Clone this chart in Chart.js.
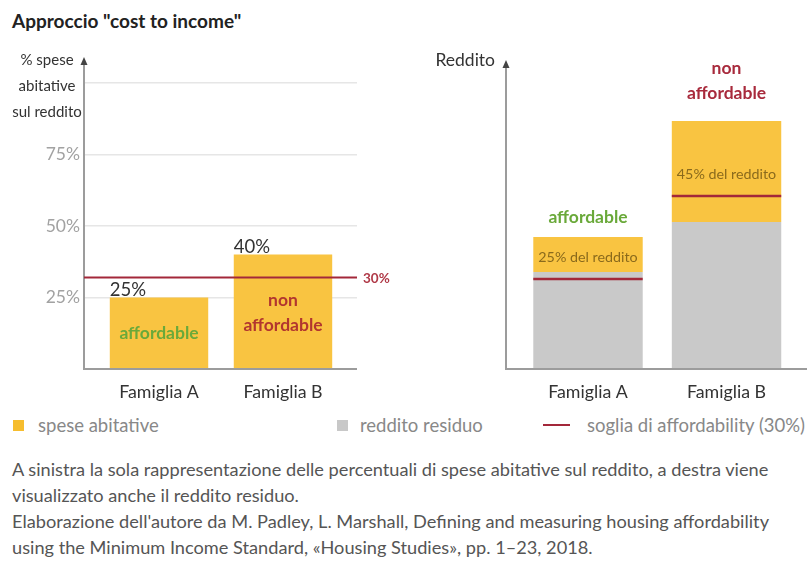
<!DOCTYPE html>
<html>
<head>
<meta charset="utf-8">
<script src="https://cdn.jsdelivr.net/npm/chart.js@4.4.0/dist/chart.umd.min.js"></script>
<style>
body { margin: 0; width: 807px; height: 569px; background: #fff; font-family: Lato, sans-serif; position: relative; overflow: hidden; }
#title { position: absolute; left: 12px; top: 9px; font-weight: 700; font-size: 19px; color: #222; }
.box { position: absolute; top: 0; height: 410px; }
#boxLeft { left: 0; width: 400px; }
#boxRight { left: 400px; width: 407px; }
.leg { position: absolute; top: 414px; font-size: 18.5px; color: #888; line-height: 22px; white-space: nowrap; }
.sq { position: absolute; top: 420px; width: 11px; height: 11px; }
#caption { position: absolute; left: 12px; top: 456px; font-size: 18.2px; line-height: 26px; color: #555; white-space: nowrap; }
</style>
</head>
<body>
<div id="title">Approccio "cost to income"</div>
<div class="box" id="boxLeft"><canvas id="chartLeft"></canvas></div>
<div class="box" id="boxRight"><canvas id="chartRight"></canvas></div>

<div class="sq" style="left:13px; background:#f6bd2e;"></div>
<div class="leg" style="left:38px;">spese abitative</div>
<div class="sq" style="left:337px; background:#c8c8c8;"></div>
<div class="leg" style="left:360px;">reddito residuo</div>
<div style="position:absolute; left:543px; top:424px; width:27px; height:2px; background:#a3283a;"></div>
<div class="leg" style="left:587px;">soglia di affordability (30%)</div>

<div id="caption">A sinistra la sola rappresentazione delle percentuali di spese abitative sul reddito, a destra viene<br>visualizzato anche il reddito residuo.<br>Elaborazione dell'autore da M. Padley, L. Marshall, Defining and measuring housing affordability<br>using the Minimum Income Standard, «Housing Studies», pp. 1–23, 2018.</div>

<script>
// dati
const famiglie = ['Famiglia A', 'Famiglia B'];
const quotaSpese = [25, 40];            // % spese abitative sul reddito (sinistra)
const sogliaSinistra = 32;              // linea soglia, come disegnata
const etichettaSoglia = '30%';
const yTicksSinistra = [0, 25, 50, 75, 100];
const redditoResiduo = [97, 147];       // destra, parte grigia
const speseAbitative = [35, 101];       // destra, parte gialla
const sogliaDestra = [90, 173];         // altezza linea soglia su ogni barra
const etichetteDestra = ['25% del reddito', '45% del reddito'];
const giudizio = [['affordable'], ['non', 'affordable']];

const GIALLO = '#f9c441';
const GRIGIO = '#c9c9c9';
const ROSSO_LINEA = '#a3283a';
const VERDE = '#6aa93a';
const FONT = 'Lato, sans-serif';

function disegnaAsse(ctx, x, yBase, yTop, xEnd) {
    ctx.save();
    ctx.strokeStyle = '#9c9c9c';
    ctx.lineWidth = 2;
    ctx.beginPath();
    ctx.moveTo(x, yBase); ctx.lineTo(x, yTop + 5);
    ctx.moveTo(x - 1, yBase); ctx.lineTo(xEnd, yBase);
    ctx.stroke();
    ctx.fillStyle = '#444';
    ctx.beginPath();
    ctx.moveTo(x, yTop); ctx.lineTo(x - 3.5, yTop + 8); ctx.lineTo(x + 3.5, yTop + 8);
    ctx.closePath(); ctx.fill();
    ctx.restore();
}

function toData(arr) { return arr.map((v, i) => ({ x: i, y: v })); }

const xBase = (min, max) => ({
    type: 'linear', min: min, max: max, offset: false, stacked: true,
    grid: { display: false, drawTicks: false, offset: false },
    border: { display: false },
    afterBuildTicks: s => { s.ticks = famiglie.map((_, i) => ({ value: i })); },
    afterFit: s => { s.height = 41; },
    ticks: { callback: v => famiglie[v], color: '#333', font: { family: FONT, size: 17.8 }, padding: 13, maxRotation: 0, autoSkip: false }
});

// ---------- grafico sinistro ----------
const pluginSinistra = {
    id: 'annotSinistra',
    afterDatasetsDraw(chart) {
        const { ctx, chartArea: ca, scales: { y } } = chart;
        disegnaAsse(ctx, ca.left, ca.bottom, 57, ca.right);
        const meta = chart.getDatasetMeta(0);

        ctx.save();
        // titolo asse
        ctx.fillStyle = '#333';
        ctx.font = '15px ' + FONT;
        ctx.textAlign = 'center';
        ctx.textBaseline = 'middle';
        ['% spese', 'abitative', 'sul reddito'].forEach((t, i) => ctx.fillText(t, 47, 60 + i * 26));

        // etichette valori
        ctx.font = '18.5px ' + FONT;
        ctx.textAlign = 'left';
        ctx.textBaseline = 'bottom';
        ctx.fillStyle = '#333';
        meta.data.forEach((bar, i) => ctx.fillText(quotaSpese[i] + '%', bar.x - bar.width / 2, bar.y + 2));

        // soglia
        const ys = y.getPixelForValue(sogliaSinistra);
        ctx.strokeStyle = ROSSO_LINEA;
        ctx.lineWidth = 2;
        ctx.beginPath(); ctx.moveTo(ca.left, ys); ctx.lineTo(ca.right, ys); ctx.stroke();
        ctx.font = 'bold 13.5px ' + FONT;
        ctx.fillStyle = '#b03a48';
        ctx.textBaseline = 'middle';
        ctx.fillText(etichettaSoglia, ca.right + 6, ys + 1);

        // giudizio dentro le barre
        ctx.font = 'bold 17.5px ' + FONT;
        ctx.textAlign = 'center';
        const bA = meta.data[0], bB = meta.data[1];
        ctx.fillStyle = VERDE;
        ctx.fillText(giudizio[0][0], bA.x, bA.y + 36);
        ctx.fillStyle = '#b2362f';
        ctx.fillText(giudizio[1][0], bB.x, bB.y + 46);
        ctx.fillText(giudizio[1][1], bB.x, bB.y + 71);
        ctx.restore();
    }
};

new Chart(document.getElementById('chartLeft'), {
    type: 'bar',
    data: {
        datasets: [{ label: 'spese abitative', data: toData(quotaSpese), backgroundColor: GIALLO, barPercentage: 0.794, categoryPercentage: 1 }]
    },
    options: {
        responsive: true, maintainAspectRatio: false, animation: false,
        layout: { padding: { top: 83, right: 43, left: 0, bottom: 0 } },
        plugins: { legend: { display: false }, tooltip: { enabled: false } },
        scales: {
            x: xBase(-0.605, 1.597),
            y: {
                min: 0, max: 100,
                afterBuildTicks: s => { s.ticks = yTicksSinistra.map(v => ({ value: v })); },
                afterFit: s => { s.width = 84; },
                ticks: { callback: v => (v === 0 || v === 100) ? '' : v + '%', color: '#a2a2a2', font: { family: FONT, size: 17.5 }, padding: 4 },
                grid: { color: c => c.tick.value === 0 ? 'rgba(0,0,0,0)' : '#e6e6e6', lineWidth: 1.5, drawTicks: false },
                border: { display: false }
            }
        }
    },
    plugins: [pluginSinistra]
});

// ---------- grafico destro ----------
const pluginDestra = {
    id: 'annotDestra',
    afterDatasetsDraw(chart) {
        const { ctx, chartArea: ca, scales: { y } } = chart;
        disegnaAsse(ctx, ca.left, ca.bottom, 60, ca.right);
        const metaG = chart.getDatasetMeta(1);

        ctx.save();
        ctx.fillStyle = '#333';
        ctx.font = '17.5px ' + FONT;
        ctx.textAlign = 'right';
        ctx.textBaseline = 'middle';
        ctx.fillText('Reddito', ca.left - 11, 60);

        metaG.data.forEach((bar, i) => {
            const half = bar.width / 2;
            // soglia sulla barra
            const ys = y.getPixelForValue(sogliaDestra[i]);
            ctx.strokeStyle = ROSSO_LINEA;
            ctx.lineWidth = 2.5;
            ctx.beginPath(); ctx.moveTo(bar.x - half, ys); ctx.lineTo(bar.x + half, ys); ctx.stroke();
            // quota del reddito
            ctx.fillStyle = '#8a6a1c';
            ctx.font = '14.3px ' + FONT;
            ctx.textAlign = 'center';
            ctx.fillText(etichetteDestra[i], bar.x, (bar.y + bar.base) / 2 + 3);
        });

        ctx.font = 'bold 17.5px ' + FONT;
        const bA = metaG.data[0], bB = metaG.data[1];
        ctx.fillStyle = VERDE;
        ctx.fillText(giudizio[0][0], bA.x, bA.y - 20);
        ctx.fillStyle = '#a82a3c';
        ctx.fillText(giudizio[1][0], bB.x, bB.y - 53);
        ctx.fillText(giudizio[1][1], bB.x, bB.y - 28);
        ctx.restore();
    }
};

new Chart(document.getElementById('chartRight'), {
    type: 'bar',
    data: {
        datasets: [
            { label: 'reddito residuo', data: toData(redditoResiduo), backgroundColor: GRIGIO, barPercentage: 0.79, categoryPercentage: 1 },
            { label: 'spese abitative', data: toData(speseAbitative), backgroundColor: GIALLO, barPercentage: 0.79, categoryPercentage: 1 }
        ]
    },
    options: {
        responsive: true, maintainAspectRatio: false, animation: false,
        layout: { padding: { top: 59, right: 0, left: 0, bottom: 0 } },
        plugins: { legend: { display: false }, tooltip: { enabled: false } },
        scales: {
            x: xBase(-0.592, 1.581),
            y: {
                min: 0, max: 310, stacked: true,
                afterFit: s => { s.width = 106; },
                ticks: { display: false },
                grid: { display: false },
                border: { display: false }
            }
        }
    },
    plugins: [pluginDestra]
});
</script>
</body>
</html>
